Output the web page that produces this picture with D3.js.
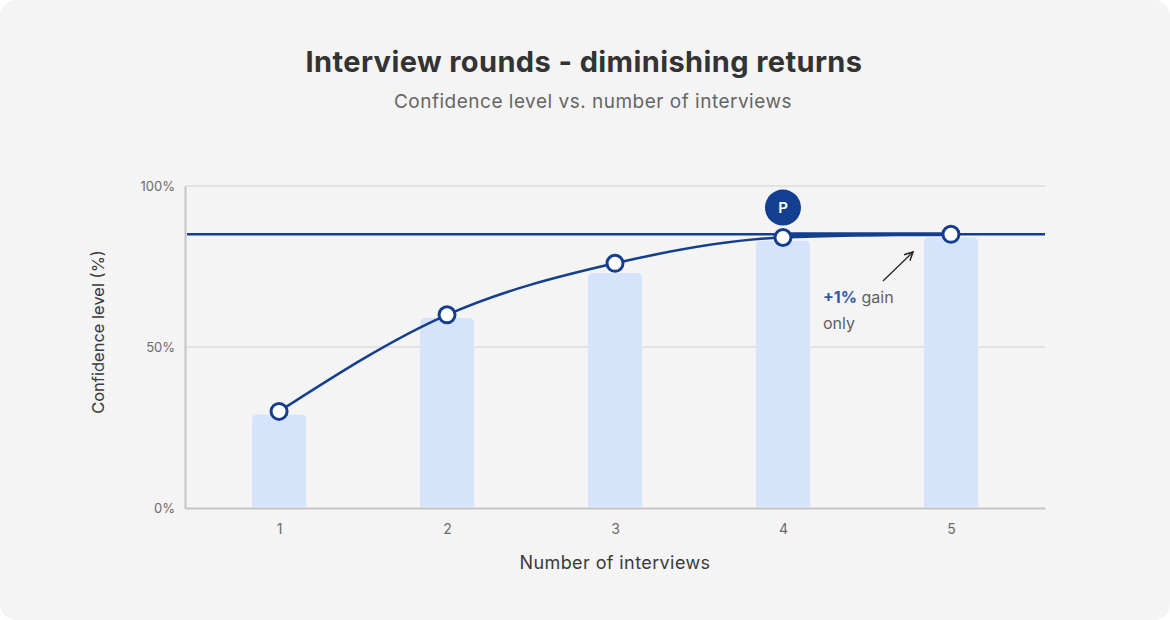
<!DOCTYPE html>
<html>
<head>
<meta charset="utf-8">
<script src="https://cdn.jsdelivr.net/npm/d3@7"></script>
<style>
  html, body { margin: 0; padding: 0; background: #ffffff; }
  svg { display: block; font-family: "Inter", "Noto Sans", sans-serif; }
</style>
</head>
<body>
<svg id="chart"></svg>
<script>
// data
let rounds = [1, 2, 3, 4, 5]
let barValues = [29, 59, 73, 83, 84]      // pale bars
let curveValues = [30, 60, 76, 84, 85]    // confidence curve
let plateau = 85                          // horizontal reference
let yTicks = [0, 50, 100]
let peakRound = 4

let width = 1170
let height = 620
let margin = { top: 186, right: 125, bottom: 112, left: 185 }

let svg = d3.select('#chart')
    .attr('width', width)
    .attr('height', height)

// card background
svg.append('rect')
    .attr('width', width).attr('height', height)
    .attr('rx', 16)
    .attr('fill', '#f4f4f4')

let x = d3.scalePoint()
    .domain(rounds)
    .range([margin.left, width - margin.right])
    .padding(0.56)

let y = d3.scaleLinear()
    .domain([0, 100])
    .range([height - margin.bottom, margin.top])

let blue = '#153f8e'

// titles
svg.append('text')
    .attr('x', 584).attr('y', 72)
    .attr('text-anchor', 'middle')
    .attr('font-size', 29).attr('font-weight', 700)
    .attr('letter-spacing', 0.4)
    .attr('fill', '#333333')
    .text('Interview rounds - diminishing returns')

svg.append('text')
    .attr('x', 593).attr('y', 108)
    .attr('text-anchor', 'middle')
    .attr('font-size', 19)
    .attr('letter-spacing', 0.5)
    .attr('fill', '#666666')
    .text('Confidence level vs. number of interviews')

// grid lines
svg.append('g')
    .selectAll('line')
    .data(yTicks.filter(d => d > 0))
    .enter()
    .append('line')
    .attr('x1', margin.left).attr('x2', width - margin.right)
    .attr('y1', d => y(d)).attr('y2', d => y(d))
    .attr('stroke', '#dcdcdc')
    .attr('stroke-width', 1.5)

// y axis
let yAxis = svg.append('g')
    .attr('transform', `translate(${margin.left},0)`)
    .call(d3.axisLeft(y).tickValues(yTicks).tickFormat(d => d + '%').tickSize(0).tickPadding(10))
yAxis.select('.domain').attr('stroke', '#c4c4c4').attr('stroke-width', 2)
yAxis.selectAll('text')
    .attr('font-size', 13).attr('fill', '#6b6b6b')
    .attr('font-family', '"Inter", "Noto Sans", sans-serif')

// x axis
let xAxis = svg.append('g')
    .attr('transform', `translate(0,${y(0)})`)
    .call(d3.axisBottom(x).tickSize(0).tickPadding(16))
xAxis.select('.domain').attr('stroke', '#c4c4c4').attr('stroke-width', 2)
xAxis.selectAll('text')
    .attr('font-size', 14).attr('fill', '#6b6b6b')
    .attr('font-family', '"Inter", "Noto Sans", sans-serif')

// axis titles
svg.append('text')
    .attr('x', 615).attr('y', 569)
    .attr('text-anchor', 'middle')
    .attr('font-size', 18).attr('letter-spacing', 0.4)
    .attr('fill', '#3a3a3a')
    .text('Number of interviews')

svg.append('text')
    .attr('transform', `translate(104,332) rotate(-90)`)
    .attr('text-anchor', 'middle')
    .attr('font-size', 16.5).attr('fill', '#3a3a3a')
    .text('Confidence level (%)')

// bars with rounded tops
let barW = 54
let r = 5
function barPath(cx, top, bottom) {
    let x0 = cx - barW / 2, x1 = cx + barW / 2
    return `M${x0},${bottom} V${top + r} Q${x0},${top} ${x0 + r},${top} H${x1 - r} Q${x1},${top} ${x1},${top + r} V${bottom} Z`
}
svg.append('g')
    .selectAll('path')
    .data(barValues)
    .enter()
    .append('path')
    .attr('d', (d, i) => barPath(x(rounds[i]), y(d), y(0) - 1))
    .attr('fill', '#d6e4fb')

// plateau reference line
svg.append('line')
    .attr('x1', margin.left + 2).attr('x2', width - margin.right)
    .attr('y1', y(plateau)).attr('y2', y(plateau))
    .attr('stroke', blue)
    .attr('stroke-width', 2.5)

// confidence curve
let line = d3.line()
    .x((d, i) => x(rounds[i]))
    .y(d => y(d))
    .curve(d3.curveMonotoneX)
svg.append('path')
    .datum(curveValues)
    .attr('d', line)
    .attr('fill', 'none')
    .attr('stroke', blue)
    .attr('stroke-width', 2.5)

// thicker flat segment between rounds 4 and 5
svg.append('line')
    .attr('x1', x(4)).attr('x2', x(5))
    .attr('y1', y(plateau)).attr('y2', y(plateau))
    .attr('stroke', blue)
    .attr('stroke-width', 4)

svg.append('g')
    .selectAll('circle')
    .data(curveValues)
    .enter()
    .append('circle')
    .attr('cx', (d, i) => x(rounds[i]))
    .attr('cy', d => y(d))
    .attr('r', 8)
    .attr('fill', '#ffffff')
    .attr('stroke', blue)
    .attr('stroke-width', 3)

// peak marker
let peakG = svg.append('g')
    .attr('transform', `translate(${x(peakRound)},${y(curveValues[peakRound - 1]) - 30})`)
peakG.append('circle').attr('r', 18).attr('fill', '#123f8f')
peakG.append('text')
    .attr('text-anchor', 'middle').attr('dy', '0.36em')
    .attr('font-size', 15).attr('font-weight', 600)
    .attr('fill', '#ffffff')
    .text('P')

// annotation
let note = svg.append('text')
    .attr('x', 823).attr('y', 303)
    .attr('font-size', 16)
note.append('tspan').attr('font-weight', 700).attr('fill', '#2f5aa8').text('+1%')
note.append('tspan').attr('fill', '#5f5f5f').text(' gain')
svg.append('text')
    .attr('x', 823).attr('y', 329)
    .attr('font-size', 16).attr('fill', '#5f5f5f')
    .text('only')

svg.append('defs').append('marker')
    .attr('id', 'arrow')
    .attr('viewBox', '0 0 10 10')
    .attr('refX', 9).attr('refY', 5)
    .attr('markerWidth', 8).attr('markerHeight', 8)
    .attr('orient', 'auto')
    .append('path')
    .attr('d', 'M1,1 L9,5 L1,9')
    .attr('fill', 'none')
    .attr('stroke', '#222')
    .attr('stroke-width', 1.4)

svg.append('line')
    .attr('x1', 883).attr('y1', 281)
    .attr('x2', 913).attr('y2', 252)
    .attr('stroke', '#222')
    .attr('stroke-width', 1.3)
    .attr('marker-end', 'url(#arrow)')
</script>
</body>
</html>
